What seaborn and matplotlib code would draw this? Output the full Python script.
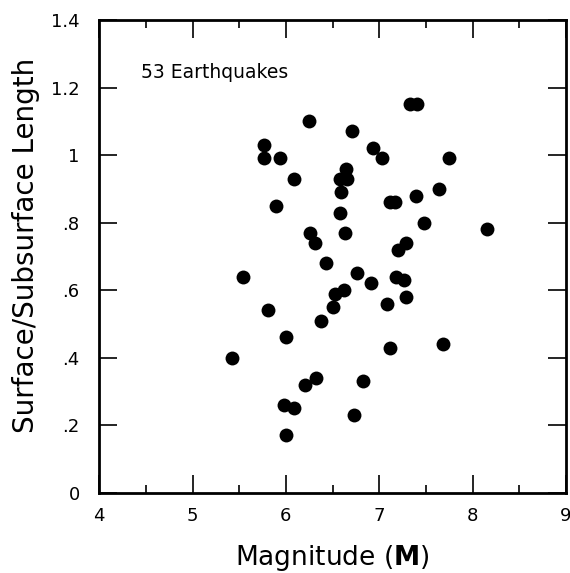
import matplotlib
matplotlib.use("Agg")
import matplotlib.pyplot as plt
import pandas as pd
import seaborn as sns

# magnitude vs ratio of surface to subsurface rupture length
magnitude = [6.25, 6.71, 5.77, 5.77, 5.94, 6.93, 7.03, 6.09, 6.64, 6.58,
             6.65, 6.59, 6.58, 6.63, 5.89, 7.11, 7.17, 6.26, 6.31, 6.43,
             5.54, 6.76, 6.91, 7.20, 7.18, 6.53, 6.62, 6.50, 7.08, 5.81,
             7.33, 7.40, 7.75, 7.39, 7.64, 7.48, 8.15, 7.29, 7.27, 7.29,
             6.38, 6.00, 5.42, 7.11, 6.32, 6.20, 6.83, 5.98, 6.09, 6.73,
             6.00, 7.68]
ratio = [1.10, 1.07, 1.03, 0.99, 0.99, 1.02, 0.99, 0.93, 0.96, 0.93,
         0.93, 0.89, 0.83, 0.77, 0.85, 0.86, 0.86, 0.77, 0.74, 0.68,
         0.64, 0.65, 0.62, 0.72, 0.64, 0.59, 0.60, 0.55, 0.56, 0.54,
         1.15, 1.15, 0.99, 0.88, 0.90, 0.80, 0.78, 0.74, 0.63, 0.58,
         0.51, 0.46, 0.40, 0.43, 0.34, 0.32, 0.33, 0.26, 0.25, 0.23,
         0.17, 0.44]

x_ticks = [4, 5, 6, 7, 8, 9]
y_ticks = [0, 0.2, 0.4, 0.6, 0.8, 1.0, 1.2, 1.4]
y_tick_labels = ["0", ".2", ".4", ".6", ".8", "1", "1.2", "1.4"]

df = pd.DataFrame({"magnitude": magnitude, "ratio": ratio})

sns.set_style("ticks")
plt.rcParams["font.family"] = ["DejaVu Sans"]

fig = plt.figure(figsize=(5.70, 5.73), dpi=100)
ax = fig.add_axes([0.174, 0.140, 0.819, 0.825])

sns.scatterplot(data=df, x="magnitude", y="ratio", ax=ax, color="black",
                s=100, edgecolor="black", linewidth=0)

ax.set_xlim(4, 9)
ax.set_ylim(0, 1.4)
ax.set_xticks(x_ticks)
ax.set_xticks([4.5, 5.5, 6.5, 7.5, 8.5], minor=True)
ax.set_yticks(y_ticks)
ax.set_yticklabels(y_tick_labels)
ax.tick_params(which="major", direction="in", length=13, width=1.2,
               top=True, right=True, labelsize=13, colors="black")
ax.tick_params(which="minor", direction="in", length=6, width=1.2,
               top=True, right=True, colors="black")
ax.tick_params(axis="x", pad=10)
ax.tick_params(axis="y", pad=14)
for sp in ax.spines.values():
    sp.set_visible(True)
    sp.set_linewidth(2)
    sp.set_color("black")

ax.set_xlabel(r"Magnitude ($\mathbf{M}$)", fontsize=19, labelpad=13,
              color="black")
ax.set_ylabel("Surface/Subsurface Length", fontsize=20, color="black")
ax.yaxis.set_label_coords(-0.126, 0.524)
ax.text(4.45, 1.245, "53 Earthquakes", fontsize=13.5, va="center", ha="left",
        color="black")

fig.savefig("out.png", dpi=100)
